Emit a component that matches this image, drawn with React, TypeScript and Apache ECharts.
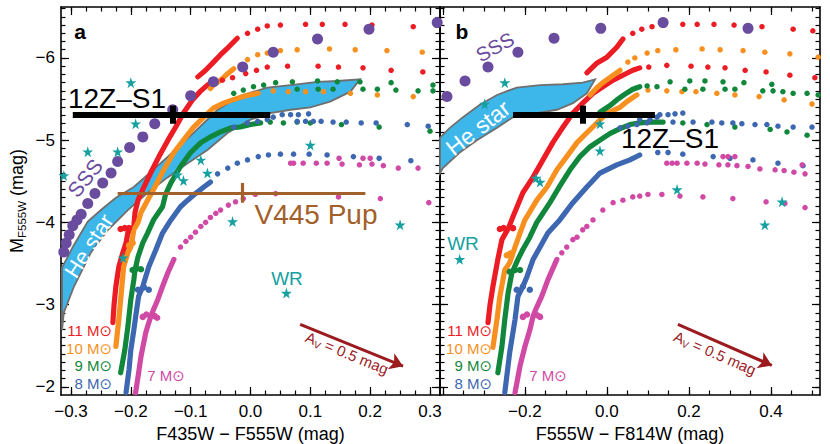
import React, { useEffect, useRef } from 'react';
import * as echarts from 'echarts';

// ---------- axis ticks ----------
const yMajor = [-6, -5, -4, -3, -2];
const aXMajor = [-0.3, -0.2, -0.1, 0, 0.1, 0.2, 0.3];
const bXMajorTicks = [-0.4, -0.2, 0, 0.2, 0.4];
const bXLabels = [-0.2, 0, 0.2, 0.4];

// ---------- panel a (F435W - F555W) ----------
const aRed11Rise = [[-0.230,-2.78],[-0.228,-3.00],[-0.225,-3.22],[-0.220,-3.46],[-0.213,-3.64],[-0.208,-3.75],[-0.205,-3.87],[-0.195,-3.95],[-0.193,-4.12],[-0.188,-4.27],[-0.180,-4.40],[-0.167,-4.60],[-0.153,-4.80],[-0.138,-5.00],[-0.125,-5.16],[-0.112,-5.33],[-0.097,-5.49],[-0.083,-5.60],[-0.072,-5.67],[-0.062,-5.71]];
const aRed11Knot = [[-0.217,-3.92],[-0.210,-3.93],[-0.203,-3.93]];
const aRed11Low = [[-0.047,-5.73],[-0.030,-5.76],[-0.008,-5.81],[0.010,-5.85],[0.028,-5.89],[0.062,-5.90],[0.113,-5.90],[0.147,-5.89],[0.188,-5.88],[0.235,-5.85],[0.288,-5.83]];
const aRed11UpRise = [[-0.088,-5.77],[-0.075,-5.85],[-0.063,-5.94],[-0.050,-6.04],[-0.037,-6.13],[-0.022,-6.24]];
const aRed11Up = [[-0.005,-6.30],[0.012,-6.35],[0.028,-6.39],[0.050,-6.40],[0.092,-6.41],[0.120,-6.41],[0.158,-6.41],[0.203,-6.40],[0.272,-6.38]];

const aOra10Rise = [[-0.225,-2.49],[-0.220,-2.82],[-0.217,-3.06],[-0.212,-3.46],[-0.205,-3.63],[-0.200,-3.70],[-0.197,-3.82],[-0.195,-3.91],[-0.188,-4.00],[-0.183,-4.12],[-0.172,-4.27],[-0.162,-4.40],[-0.145,-4.64],[-0.128,-4.85],[-0.112,-5.00],[-0.095,-5.16],[-0.078,-5.28],[-0.062,-5.39],[-0.045,-5.45],[-0.030,-5.49],[-0.008,-5.54],[0.013,-5.57]];
const aOra10Knot = [[-0.203,-3.72],[-0.197,-3.75]];
const aOra10Low = [[0.038,-5.60],[0.063,-5.59],[0.092,-5.59],[0.122,-5.59],[0.167,-5.57],[0.212,-5.55],[0.272,-5.53]];
const aOra10UpRise = [[-0.067,-5.63],[-0.062,-5.67],[-0.050,-5.73],[-0.038,-5.81],[-0.028,-5.87]];
const aOra10Up = [[-0.017,-5.91],[-0.005,-5.98],[0.012,-6.04],[0.028,-6.06],[0.050,-6.09],[0.078,-6.10],[0.132,-6.11],[0.175,-6.10],[0.228,-6.09],[0.287,-6.07]];

const aGrn9Rise = [[-0.217,-2.17],[-0.210,-2.45],[-0.205,-2.73],[-0.200,-3.06],[-0.195,-3.30],[-0.193,-3.42],[-0.188,-3.58],[-0.180,-3.75],[-0.172,-3.87],[-0.162,-4.03],[-0.147,-4.19],[-0.142,-4.34],[-0.133,-4.48],[-0.117,-4.68],[-0.100,-4.85],[-0.083,-4.97],[-0.067,-5.04],[-0.050,-5.10],[-0.033,-5.15],[-0.017,-5.16],[0.000,-5.19],[0.017,-5.21]];
const aGrn9Knot = [[-0.197,-3.42],[-0.190,-3.44],[-0.183,-3.43]];
const aGrn9Low = [[0.033,-5.22],[0.055,-5.21],[0.078,-5.22],[0.100,-5.21],[0.152,-5.19],[0.215,-5.16],[0.300,-5.11]];
const aGrn9Up = [[-0.028,-5.57],[-0.012,-5.61],[0.005,-5.65],[0.022,-5.67],[0.042,-5.70],[0.070,-5.71],[0.112,-5.72],[0.145,-5.71],[0.183,-5.71],[0.235,-5.70],[0.305,-5.67],[0.078,-5.62],[0.113,-5.62],[0.138,-5.62],[0.188,-5.62],[0.212,-5.62],[0.243,-5.61],[0.280,-5.60],[0.305,-5.60]];

const aBlu8Rise = [[-0.208,-1.93],[-0.203,-2.21],[-0.200,-2.45],[-0.195,-2.69],[-0.192,-2.85],[-0.187,-3.10],[-0.180,-3.22],[-0.178,-3.27],[-0.170,-3.46],[-0.158,-3.67],[-0.147,-3.87],[-0.133,-4.03],[-0.117,-4.19],[-0.105,-4.27],[-0.092,-4.35],[-0.078,-4.43],[-0.067,-4.49]];
const aBlu8Knot = [[-0.188,-3.18],[-0.178,-3.21],[-0.170,-3.18]];
const aBlu8Low = [[-0.055,-4.59],[-0.038,-4.66],[-0.022,-4.72],[-0.005,-4.76],[0.013,-4.80],[0.030,-4.82],[0.050,-4.83],[0.072,-4.83],[0.098,-4.83],[0.128,-4.82],[0.172,-4.80],[0.215,-4.78],[0.268,-4.75]];
const aBlu8Up = [[-0.028,-5.16],[-0.005,-5.21],[0.012,-5.23],[0.028,-5.25],[0.038,-5.28],[0.053,-5.31],[0.067,-5.31],[0.080,-5.31],[0.097,-5.32],[0.078,-5.23],[0.092,-5.23],[0.105,-5.23],[0.118,-5.23],[0.138,-5.22],[0.160,-5.22],[0.185,-5.21],[0.210,-5.21],[0.262,-5.19],[0.297,-5.17]];

const aMag7Rise = [[-0.192,-1.93],[-0.187,-2.17],[-0.183,-2.37],[-0.175,-2.66],[-0.170,-2.78],[-0.166,-2.87],[-0.162,-2.94],[-0.155,-3.06],[-0.147,-3.22],[-0.138,-3.39],[-0.128,-3.55]];
const aMag7Knot = [[-0.180,-2.85],[-0.174,-2.88],[-0.160,-2.86],[-0.156,-2.84]];
const aMag7Arc = [[-0.117,-3.70],[-0.108,-3.77],[-0.100,-3.82],[-0.092,-3.88],[-0.083,-3.95],[-0.075,-4.00],[-0.067,-4.06],[-0.058,-4.11],[-0.050,-4.15],[-0.037,-4.21],[-0.025,-4.25]];
const aMag7Low = [[-0.012,-4.29],[0.008,-4.34],[0.042,-4.35],[0.147,-4.31],[0.217,-4.29],[0.298,-4.24]];
const aMag7Up = [[0.067,-4.72],[0.072,-4.72],[0.088,-4.72],[0.110,-4.72],[0.128,-4.72],[0.148,-4.78],[0.153,-4.71],[0.182,-4.70],[0.188,-4.78],[0.200,-4.78],[0.203,-4.71],[0.222,-4.69],[0.247,-4.66],[0.280,-4.66]];

const aSSS = [[-0.312,-3.64],[-0.308,-3.75],[-0.303,-3.85],[-0.297,-3.96],[-0.290,-4.03],[-0.283,-4.10],[-0.272,-4.23],[-0.260,-4.35],[-0.247,-4.48],[-0.233,-4.60],[-0.222,-4.74],[-0.202,-4.91],[-0.180,-5.04],[-0.160,-5.20],[-0.130,-5.37],[-0.100,-5.54],[-0.062,-5.71],[-0.013,-5.89],[0.038,-6.07],[0.112,-6.23],[0.198,-6.35],[0.312,-6.43]];
const aWR = [[-0.200,-5.70],[-0.192,-5.20],[-0.272,-4.86],[-0.222,-4.86],[-0.312,-4.57],[-0.122,-4.58],[-0.112,-4.51],[-0.083,-4.76],[-0.072,-4.60],[0.100,-4.94],[-0.030,-4.01],[-0.213,-3.57],[0.250,-3.97],[0.060,-3.14]];
const aHeStar = [[-0.315,-3.45],[-0.297,-3.70],[-0.272,-4.01],[-0.250,-4.15],[-0.225,-4.30],[-0.195,-4.43],[-0.167,-4.61],[-0.138,-4.80],[-0.095,-5.09],[-0.055,-5.37],[-0.017,-5.54],[0.028,-5.64],[0.067,-5.67],[0.112,-5.71],[0.145,-5.72],[0.183,-5.74],[0.167,-5.59],[0.133,-5.47],[0.100,-5.40],[0.067,-5.37],[0.033,-5.33],[0.000,-5.25],[-0.038,-5.09],[-0.072,-4.88],[-0.105,-4.72],[-0.138,-4.55],[-0.172,-4.36],[-0.205,-4.15],[-0.238,-3.91],[-0.267,-3.63],[-0.295,-3.22],[-0.312,-2.90],[-0.315,-2.69]];

const a12ZPoint = [-0.130, -5.31];
const a12ZXRange = [-0.297, 0.033];
const a12ZYRange = [-5.42, -5.20];
const aV445Point = [-0.013, -4.36];
const aV445XRange = [-0.222, 0.192];
const aV445YRange = [-4.48, -4.24];
const aAvArrow = [[0.083, -2.76], [0.255, -2.25]];

// ---------- panel b (F555W - F814W) ----------
const bRed11Rise = [[-0.290,-2.78],[-0.285,-3.00],[-0.278,-3.22],[-0.266,-3.55],[-0.256,-3.79],[-0.240,-3.93],[-0.229,-4.07],[-0.205,-4.36],[-0.180,-4.55],[-0.156,-4.76],[-0.132,-4.97],[-0.107,-5.16],[-0.083,-5.33],[-0.059,-5.45],[-0.034,-5.57],[-0.010,-5.65],[0.015,-5.73],[0.039,-5.79],[0.063,-5.85],[0.080,-5.88]];
const bRed11Knot = [[-0.261,-3.92],[-0.252,-3.93],[-0.229,-3.93]];
const bRed11Low = [[0.102,-5.89],[0.146,-5.91],[0.205,-5.90],[0.246,-5.89],[0.288,-5.88],[0.337,-5.85],[0.388,-5.83],[0.446,-5.79],[0.507,-5.76]];
const bRed11UpRise = [[-0.049,-5.82],[-0.024,-5.94],[0.000,-6.01],[0.024,-6.13],[0.039,-6.23]];
const bRed11Up = [[0.063,-6.30],[0.085,-6.35],[0.110,-6.38],[0.185,-6.41],[0.220,-6.41],[0.261,-6.41],[0.310,-6.40],[0.378,-6.38],[0.454,-6.35],[0.502,-6.33]];

const bOra10Rise = [[-0.278,-2.48],[-0.268,-2.82],[-0.261,-3.10],[-0.249,-3.42],[-0.237,-3.51],[-0.224,-3.70],[-0.212,-3.87],[-0.200,-4.03],[-0.195,-4.07],[-0.171,-4.27],[-0.146,-4.43],[-0.122,-4.64],[-0.098,-4.80],[-0.073,-4.97],[-0.049,-5.09],[-0.024,-5.21],[0.000,-5.33],[0.032,-5.40],[0.049,-5.47],[0.073,-5.55]];
const bOra10Knot = [[-0.244,-3.60],[-0.236,-3.62]];
const bOra10Low = [[0.100,-5.61],[0.146,-5.60],[0.183,-5.59],[0.217,-5.59],[0.268,-5.57],[0.312,-5.55],[0.371,-5.53],[0.432,-5.49],[0.500,-5.44]];
const bOra10UpRise = [[-0.041,-5.55],[-0.024,-5.64],[-0.010,-5.70],[0.007,-5.76],[0.032,-5.85]];
const bOra10Up = [[0.051,-5.95],[0.068,-6.00],[0.098,-6.06],[0.124,-6.09],[0.168,-6.10],[0.232,-6.11],[0.276,-6.10],[0.332,-6.09],[0.385,-6.07],[0.446,-6.05],[0.515,-6.01]];

const bGrn9Rise = [[-0.266,-2.17],[-0.256,-2.49],[-0.249,-2.82],[-0.241,-3.14],[-0.232,-3.38],[-0.217,-3.55],[-0.205,-3.67],[-0.188,-3.82],[-0.171,-4.00],[-0.163,-4.06],[-0.139,-4.24],[-0.115,-4.44],[-0.090,-4.64],[-0.066,-4.80],[-0.041,-4.92],[-0.017,-5.00],[0.007,-5.08],[0.032,-5.14],[0.056,-5.19],[0.080,-5.21],[0.105,-5.22],[0.137,-5.22]];
const bGrn9Knot = [[-0.237,-3.40],[-0.224,-3.42],[-0.212,-3.42]];
const bGrn9Low = [[0.185,-5.21],[0.244,-5.19],[0.312,-5.16],[0.398,-5.13],[0.439,-5.10],[0.488,-5.06]];
const bGrn9UpRise = [[-0.017,-5.34],[0.007,-5.42],[0.024,-5.49],[0.044,-5.56],[0.063,-5.62],[0.080,-5.65]];
const bGrn9Up = [[0.098,-5.66],[0.122,-5.65],[0.154,-5.71],[0.202,-5.72],[0.239,-5.72],[0.283,-5.71],[0.334,-5.70],[0.402,-5.68],[0.190,-5.62],[0.234,-5.62],[0.288,-5.62],[0.312,-5.62],[0.380,-5.60],[0.405,-5.60],[0.429,-5.59],[0.454,-5.57],[0.488,-5.57],[0.515,-5.55]];

const bBlu8Rise = [[-0.249,-1.93],[-0.237,-2.42],[-0.224,-2.82],[-0.217,-3.10],[-0.205,-3.22],[-0.195,-3.34],[-0.180,-3.55],[-0.163,-3.70],[-0.144,-3.87],[-0.115,-4.03],[-0.083,-4.24],[-0.049,-4.43],[-0.017,-4.60],[0.024,-4.70],[0.056,-4.76],[0.080,-4.82]];
const bBlu8Knot = [[-0.220,-3.18],[-0.205,-3.22],[-0.188,-3.18]];
const bBlu8Low = [[0.124,-4.85],[0.149,-4.85],[0.185,-4.83],[0.259,-4.80],[0.300,-4.78],[0.356,-4.76],[0.417,-4.72],[0.478,-4.69]];
const bBlu8Up = [[0.032,-5.15],[0.051,-5.17],[0.073,-5.19],[0.080,-5.25],[0.098,-5.21],[0.105,-5.25],[0.122,-5.28],[0.129,-5.31],[0.149,-5.31],[0.166,-5.32],[0.185,-5.33],[0.161,-5.22],[0.210,-5.22],[0.256,-5.22],[0.280,-5.21],[0.307,-5.21],[0.329,-5.20],[0.361,-5.19],[0.390,-5.19],[0.417,-5.17],[0.454,-5.16],[0.500,-5.16]];

const bMag7Rise = [[-0.224,-1.93],[-0.212,-2.25],[-0.200,-2.49],[-0.188,-2.69],[-0.180,-2.86],[-0.171,-2.97],[-0.159,-3.10],[-0.144,-3.30],[-0.122,-3.55]];
const bMag7Knot = [[-0.205,-2.85],[-0.195,-2.88],[-0.170,-2.87],[-0.163,-2.85]];
const bMag7Arc = [[-0.110,-3.63],[-0.098,-3.70],[-0.083,-3.79],[-0.073,-3.82],[-0.059,-3.91],[-0.049,-3.95],[-0.034,-4.03],[-0.010,-4.15],[0.015,-4.24],[0.039,-4.27],[0.063,-4.31]];
const bMag7Low = [[0.080,-4.32],[0.100,-4.34],[0.134,-4.34],[0.178,-4.32],[0.234,-4.31],[0.307,-4.29],[0.388,-4.25],[0.434,-4.23],[0.483,-4.18]];
const bMag7Up = [[0.146,-4.72],[0.159,-4.72],[0.171,-4.72],[0.195,-4.72],[0.220,-4.72],[0.239,-4.71],[0.273,-4.70],[0.283,-4.80],[0.295,-4.80],[0.312,-4.80],[0.295,-4.70],[0.317,-4.69],[0.344,-4.68],[0.373,-4.65],[0.410,-4.64],[0.432,-4.63],[0.456,-4.61],[0.476,-4.70],[0.483,-4.59]];

const bSSS = [[-0.390,-5.53],[-0.346,-5.72],[-0.290,-5.89],[-0.217,-6.07],[-0.129,-6.24],[-0.015,-6.36],[0.137,-6.43],[0.344,-6.36]];
const bWR = [[-0.249,-5.70],[-0.298,-5.44],[-0.017,-5.20],[-0.017,-4.87],[-0.173,-4.54],[-0.163,-4.49],[0.171,-4.40],[0.427,-4.25],[0.385,-3.97],[-0.359,-3.55]];
const bHeStar = [[-0.407,-5.03],[-0.383,-5.15],[-0.351,-5.28],[-0.310,-5.43],[-0.268,-5.55],[-0.220,-5.64],[-0.163,-5.67],[-0.107,-5.68],[-0.059,-5.70],[-0.029,-5.74],[-0.049,-5.57],[-0.083,-5.45],[-0.122,-5.37],[-0.171,-5.33],[-0.229,-5.28],[-0.268,-5.15],[-0.317,-5.00],[-0.359,-4.85],[-0.400,-4.66],[-0.407,-4.60]];

const b12ZPoint = [-0.059, -5.31];
const b12ZXRange = [-0.229, 0.117];
const b12ZYRange = [-5.42, -5.20];
const bAvArrow = [[0.173, -2.76], [0.402, -2.26]];

// ---------- styling ----------
const FONT = '"Liberation Sans", Arial, Helvetica, "DejaVu Sans", sans-serif';
const C = {
  red: '#EC1C24', orange: '#F7901E', green: '#11873C', blue: '#3D67B1', magenta: '#D04AA5',
  purple: '#6A4C9E', teal: '#16A0A0', he: '#3DB7EA', heEdge: '#6F6F6F', brown: '#A2602A', arrow: '#9B1B1F',
};
const STAR = 'path://M50,0 L61,35 L98,35 L68,57 L79,91 L50,70 L21,91 L32,57 L2,35 L39,35 Z';

function steps(lo: number, hi: number, step: number) {
  const out: number[] = [];
  const n = Math.round((hi - lo) / step);
  for (let i = 0; i <= n; i++) out.push(+(lo + i * step).toFixed(4));
  return out;
}
const aXMinor = steps(-0.3, 0.3, 0.025);
const bXMinor = steps(-0.4, 0.5, 0.05);
const yMinor = steps(-6.6, -2.0, 0.1);

const fmtX = (v: number) => (v < -1e-9 ? '\u2212' + Math.abs(v).toFixed(1) : Math.abs(v).toFixed(1));
const fmtY = (v: number) => '\u2212' + Math.abs(v).toFixed(0);

const A_MIN = -0.3167, A_MAX = 0.3167, B_MIN = -0.407, B_MAX = 0.5195, Y_MIN = -6.62, Y_MAX = -1.9;

function xAx(grid: number, position: string, min: number, max: number, ticks: number[], len: number, showLine: boolean, labels?: number[], name?: string) {
  return {
    type: 'value', gridIndex: grid, position, min, max,
    axisLine: { show: showLine, onZero: false, lineStyle: { color: '#000', width: 1.6 } },
    axisTick: { show: true, inside: true, length: len, customValues: ticks, lineStyle: { color: '#000', width: 1.2 } },
    axisLabel: labels ? { show: true, customValues: labels, formatter: fmtX, margin: 8, fontSize: 17, color: '#000', fontFamily: FONT } : { show: false },
    splitLine: { show: false },
    name: name || '', nameLocation: 'middle', nameGap: 27,
    nameTextStyle: { fontSize: 18, color: '#000', fontFamily: FONT },
  };
}
function yAx(grid: number, position: string, ticks: number[], len: number, showLine: boolean, labels?: number[], name?: string) {
  return {
    type: 'value', gridIndex: grid, position, min: Y_MIN, max: Y_MAX, inverse: true,
    axisLine: { show: showLine, onZero: false, lineStyle: { color: '#000', width: 1.6 } },
    axisTick: { show: true, inside: true, length: len, customValues: ticks, lineStyle: { color: '#000', width: 1.2 } },
    axisLabel: labels ? { show: true, customValues: labels, formatter: fmtY, margin: 6, fontSize: 17, color: '#000', fontFamily: FONT } : { show: false },
    splitLine: { show: false },
    name: name || '', nameLocation: 'middle', nameGap: 33,
    nameTextStyle: {
      color: '#000', fontFamily: FONT, fontSize: 18,
      rich: {
        m: { fontSize: 18, fontFamily: FONT, color: '#000', lineHeight: 22 },
        s: { fontSize: 11.5, fontFamily: FONT, color: '#000', lineHeight: 12, verticalAlign: 'bottom' },
      },
    },
  };
}

const dense = (data: number[][], color: string, ai: number) => ({
  type: 'line', xAxisIndex: ai, yAxisIndex: ai, data, symbol: 'none', showSymbol: false, silent: true, z: 3,
  lineStyle: { color, width: 5.2, cap: 'round', join: 'round' },
});
const dots = (data: number[][], color: string, ai: number, size = 5.5, z = 3, symbol = 'circle') => ({
  type: 'scatter', xAxisIndex: ai, yAxisIndex: ai, data, symbol, symbolSize: size, silent: true, z,
  itemStyle: { color, opacity: 1 },
});
const heBand = (poly: number[][], ai: number) => ({
  type: 'custom', xAxisIndex: ai, yAxisIndex: ai, data: [poly[0]], silent: true, z: 1,
  renderItem: (_p: any, api: any) => ({
    type: 'polygon',
    shape: { points: poly.map((p) => api.coord(p)) },
    style: { fill: C.he, stroke: C.heEdge, lineWidth: 1.8 },
  }),
});
const segs = (list: number[][][], color: string, width: number, ai: number, arrow = false) => ({
  type: 'lines', coordinateSystem: 'cartesian2d', xAxisIndex: ai, yAxisIndex: ai, silent: true, z: 8,
  data: list.map((c) => ({ coords: c })),
  symbol: arrow ? ['none', 'arrow'] : ['none', 'none'], symbolSize: arrow ? 13 : 0,
  lineStyle: { color, width, opacity: 1 },
});
const errBar = (pt: number[], xr: number[], yr: number[]) => [
  [[xr[0], pt[1]], [xr[1], pt[1]]],
  [[pt[0], yr[0]], [pt[0], yr[1]]],
];

function track(ai: number, color: string, t: any) {
  const out: any[] = [dense(t.rise, color, ai), dots(t.knot, color, ai, 6.5)];
  if (t.low) out.push(dots(t.low, color, ai));
  if (t.upRise) out.push(dense(t.upRise, color, ai));
  if (t.up) out.push(dots(t.up, color, ai));
  if (t.arc) out.push(dots(t.arc, color, ai, 5.5));
  return out;
}

function panelSeries(ai: number, d: any) {
  return [
    heBand(d.he, ai),
    ...track(ai, C.red, d.red),
    ...track(ai, C.orange, d.ora),
    ...track(ai, C.green, d.grn),
    ...track(ai, C.blue, d.blu),
    ...track(ai, C.magenta, d.mag),
    dots(d.sss, C.purple, ai, 11, 5),
    dots(d.wr, C.teal, ai, 11, 6, STAR),
  ];
}

function txt(x: number, y: number, text: string, fill: string, size: number, o: any = {}) {
  return {
    type: 'text', x, y, rotation: o.rot || 0, z: 100, silent: true,
    style: {
      text, fill, font: `${o.bold ? 'bold ' : ''}${size}px ${FONT}`,
      textAlign: o.align || 'center', textVerticalAlign: 'middle', align: o.align || 'center', verticalAlign: 'middle',
      rich: o.rich,
    },
  };
}
const avRich = {
  a: { fontSize: 15, fontFamily: FONT, fill: C.arrow, color: C.arrow, lineHeight: 18 },
  s: { fontSize: 10, fontFamily: FONT, fill: C.arrow, color: C.arrow, lineHeight: 10, verticalAlign: 'bottom' },
};

export default function App() {
  const ref = useRef<HTMLDivElement>(null);
  useEffect(() => {
    if (!ref.current) return;
    const chart = echarts.init(ref.current, null, { renderer: 'svg' });
    const aData = {
      he: aHeStar,
      red: { rise: aRed11Rise, knot: aRed11Knot, low: aRed11Low, upRise: aRed11UpRise, up: aRed11Up },
      ora: { rise: aOra10Rise, knot: aOra10Knot, low: aOra10Low, upRise: aOra10UpRise, up: aOra10Up },
      grn: { rise: aGrn9Rise, knot: aGrn9Knot, low: aGrn9Low, up: aGrn9Up },
      blu: { rise: aBlu8Rise, knot: aBlu8Knot, low: aBlu8Low, up: aBlu8Up },
      mag: { rise: aMag7Rise, knot: aMag7Knot, arc: aMag7Arc, low: aMag7Low, up: aMag7Up },
      sss: aSSS, wr: aWR,
    };
    const bData = {
      he: bHeStar,
      red: { rise: bRed11Rise, knot: bRed11Knot, low: bRed11Low, upRise: bRed11UpRise, up: bRed11Up },
      ora: { rise: bOra10Rise, knot: bOra10Knot, low: bOra10Low, upRise: bOra10UpRise, up: bOra10Up },
      grn: { rise: bGrn9Rise, knot: bGrn9Knot, low: bGrn9Low, upRise: bGrn9UpRise, up: bGrn9Up },
      blu: { rise: bBlu8Rise, knot: bBlu8Knot, low: bBlu8Low, up: bBlu8Up },
      mag: { rise: bMag7Rise, knot: bMag7Knot, arc: bMag7Arc, low: bMag7Low, up: bMag7Up },
      sss: bSSS, wr: bWR,
    };
    const option: any = {
      animation: false,
      backgroundColor: '#fff',
      grid: [
        { left: 61, top: 7, width: 379, height: 388, containLabel: false, outerBoundsMode: 'none' },
        { left: 440, top: 7, width: 380, height: 388, containLabel: false, outerBoundsMode: 'none' },
      ],
      xAxis: [
        xAx(0, 'bottom', A_MIN, A_MAX, aXMajor, 8, true, aXMajor, 'F435W \u2212 F555W (mag)'),
        xAx(0, 'bottom', A_MIN, A_MAX, aXMinor, 4.5, false),
        xAx(0, 'top', A_MIN, A_MAX, aXMajor, 8, true),
        xAx(0, 'top', A_MIN, A_MAX, aXMinor, 4.5, false),
        xAx(1, 'bottom', B_MIN, B_MAX, bXMajorTicks, 8, true, bXLabels, 'F555W \u2212 F814W (mag)'),
        xAx(1, 'bottom', B_MIN, B_MAX, bXMinor, 4.5, false),
        xAx(1, 'top', B_MIN, B_MAX, bXMajorTicks, 8, true),
        xAx(1, 'top', B_MIN, B_MAX, bXMinor, 4.5, false),
      ],
      yAxis: [
        yAx(0, 'left', yMajor, 8, true, yMajor, '{m|M}{s|F555W}{m| (mag)}'),
        yAx(0, 'left', yMinor, 4.5, false),
        yAx(0, 'right', yMajor, 8, true),
        yAx(0, 'right', yMinor, 4.5, false),
        yAx(1, 'left', yMajor, 8, true),
        yAx(1, 'left', yMinor, 4.5, false),
        yAx(1, 'right', yMajor, 8, true),
        yAx(1, 'right', yMinor, 4.5, false),
      ],
      series: [
        ...panelSeries(0, aData),
        ...panelSeries(4, bData),
        segs(errBar(a12ZPoint, a12ZXRange, a12ZYRange), '#000', 6, 0),
        segs(errBar(aV445Point, aV445XRange, aV445YRange), C.brown, 3.2, 0),
        segs(errBar(b12ZPoint, b12ZXRange, b12ZYRange), '#000', 6, 4),
        segs([aAvArrow], C.arrow, 3, 0, true),
        segs([bAvArrow], C.arrow, 3, 4, true),
      ],
      graphic: [
        txt(80, 31, 'a', '#000', 21, { bold: true }),
        txt(462, 31, 'b', '#000', 21, { bold: true }),
        txt(85, 178, 'SSS', C.purple, 21, { rot: 0.89 }),
        txt(495, 47, 'SSS', C.purple, 20, { rot: 0.5 }),
        txt(89, 246, 'He star', '#fff', 22, { rot: 1.0 }),
        txt(478, 128, 'He star', '#fff', 23, { rot: 0.66 }),
        txt(117, 98, '12Z\u2013S1', '#000', 28),
        txt(670, 138, '12Z\u2013S1', '#000', 28),
        txt(316, 214, 'V445 Pup', C.brown, 28),
        txt(287, 278, 'WR', C.teal, 19),
        txt(463, 243, 'WR', C.teal, 19),
        txt(112, 330, '11 M\u2299', C.red, 15, { align: 'right' }),
        txt(112, 348, '10 M\u2299', C.orange, 15, { align: 'right' }),
        txt(112, 365, '9 M\u2299', C.green, 15, { align: 'right' }),
        txt(112, 383, '8 M\u2299', C.blue, 15, { align: 'right' }),
        txt(166, 375, '7 M\u2299', C.magenta, 15),
        txt(492, 330, '11 M\u2299', C.red, 15, { align: 'right' }),
        txt(492, 348, '10 M\u2299', C.orange, 15, { align: 'right' }),
        txt(492, 365, '9 M\u2299', C.green, 15, { align: 'right' }),
        txt(492, 383, '8 M\u2299', C.blue, 15, { align: 'right' }),
        txt(548, 375, '7 M\u2299', C.magenta, 15),
        txt(347, 353, '{a|A}{s|V}{a| = 0.5 mag}', C.arrow, 15, { rot: -0.39, rich: avRich }),
        txt(715, 353, '{a|A}{s|V}{a| = 0.5 mag}', C.arrow, 15, { rot: -0.41, rich: avRich }),
      ],
    };
    chart.setOption(option);
    return () => chart.dispose();
  }, []);
  return <div ref={ref} style={{ position: 'fixed', left: 0, top: 0, width: 830, height: 444 }} />;
}
